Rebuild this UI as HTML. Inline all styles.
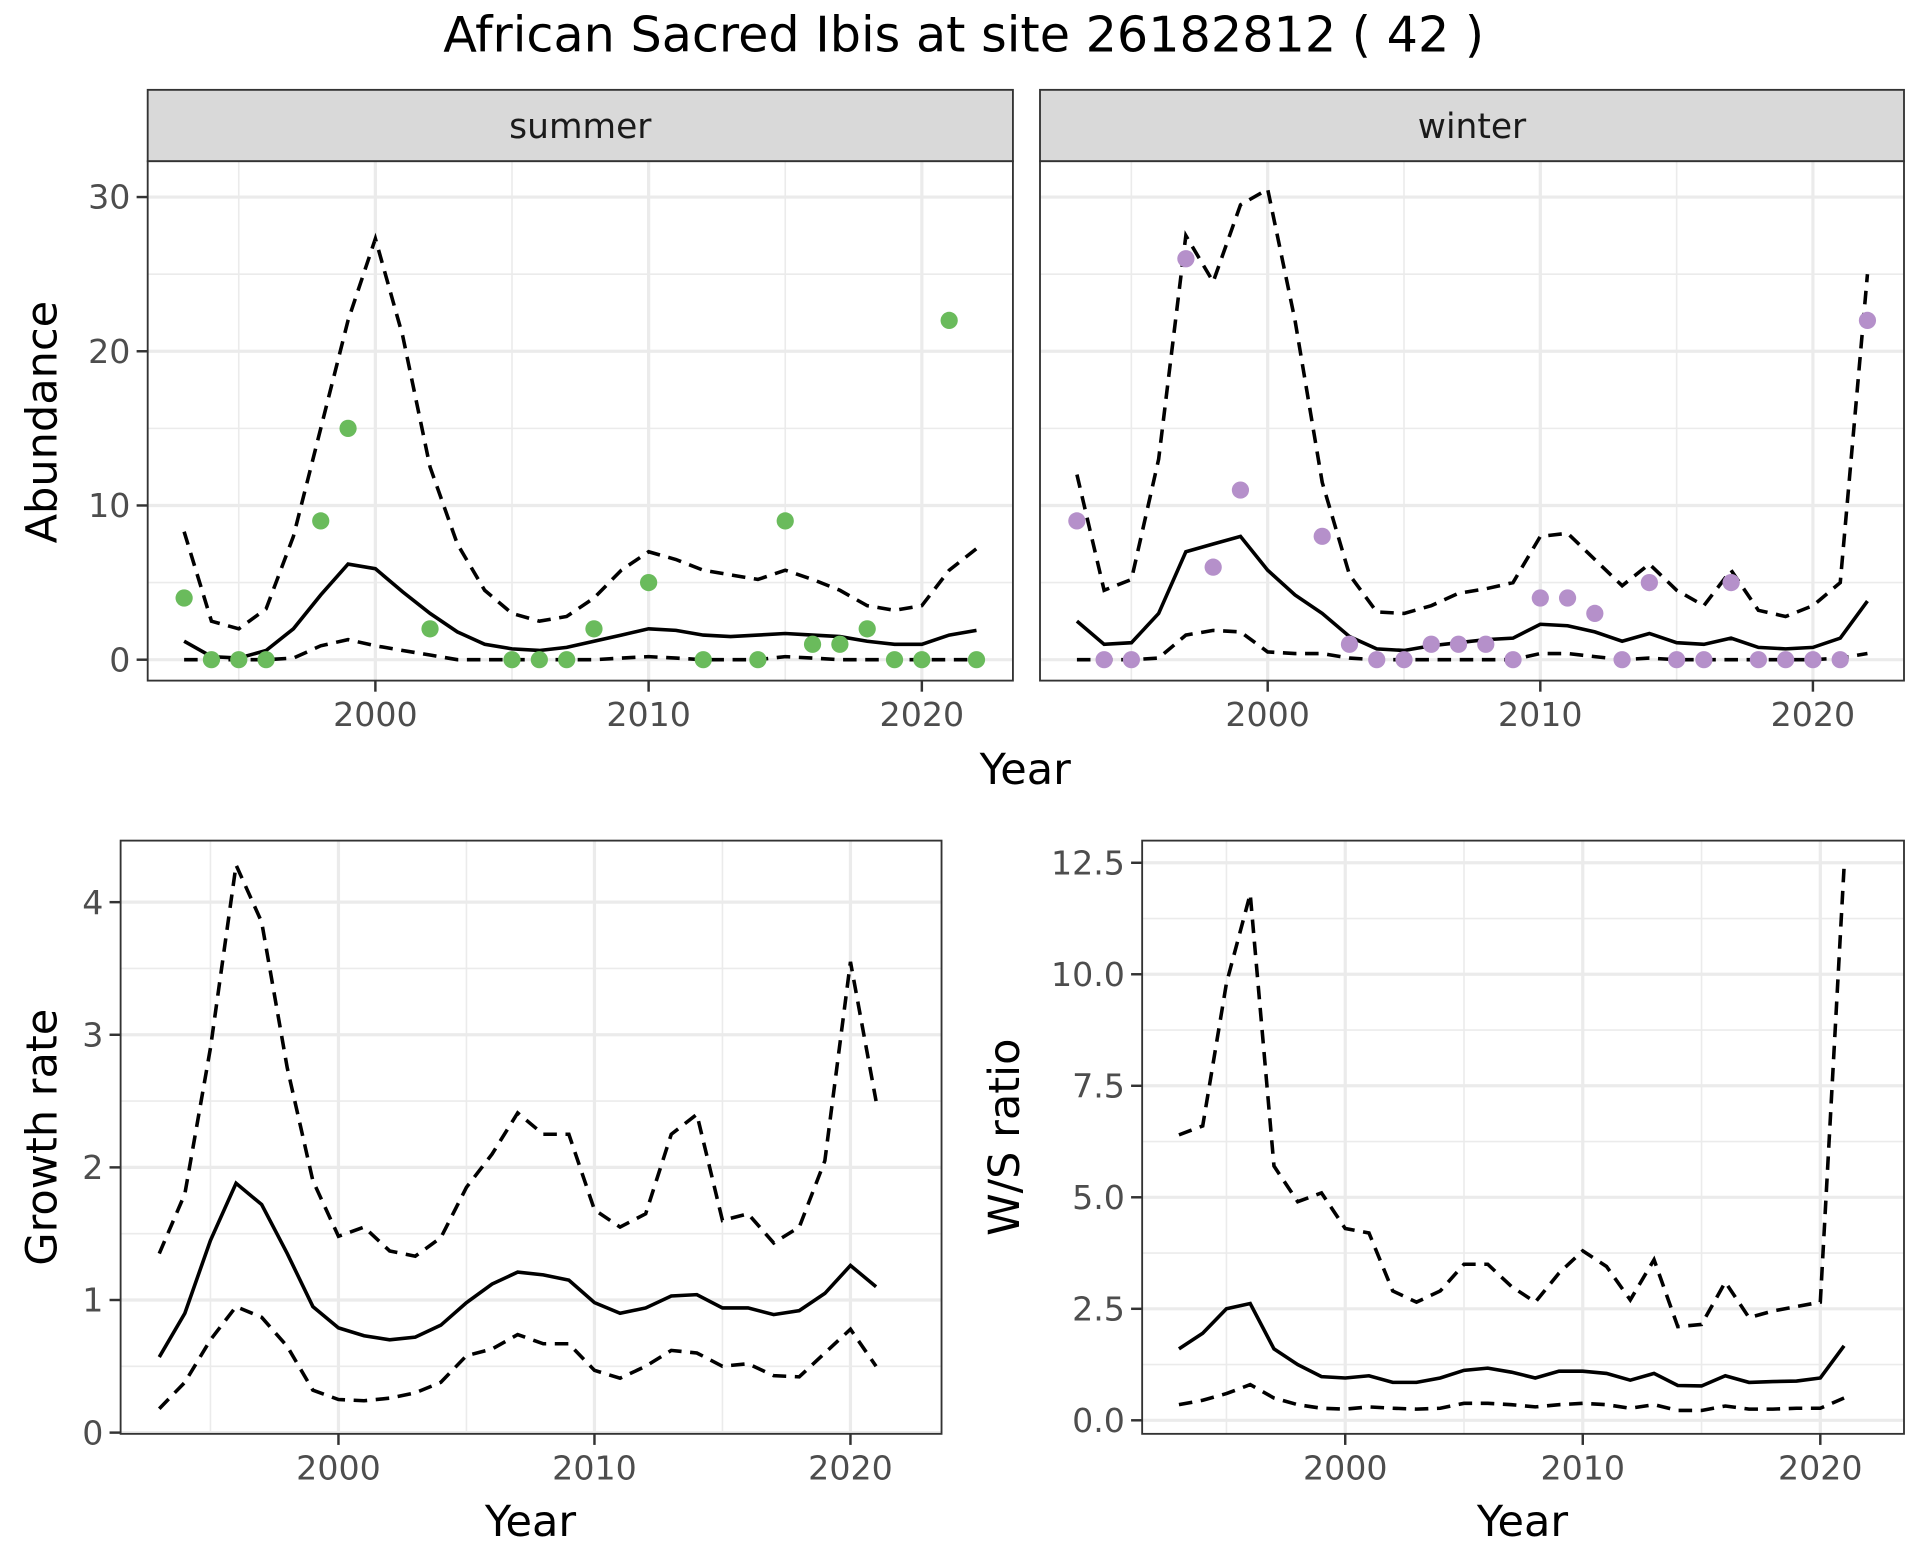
<!DOCTYPE html>
<html><head><meta charset="utf-8"><style>
html,body{margin:0;padding:0;background:#fff;}
svg{display:block;font-family:"DejaVu Sans","Liberation Sans",sans-serif;}
</style></head><body>
<svg id="s" width="1920" height="1560" viewBox="0 0 1560 1267.5" preserveAspectRatio="none" xmlns="http://www.w3.org/2000/svg"></svg>
<script>
const S=document.getElementById('s');let h='';
h+='<rect width="1560" height="1267.5" fill="#fff"/>';
h+='<text x="783" y="42" font-size="40" text-anchor="middle" fill="#000">African Sacred Ibis at site 26182812 ( 42 )</text>';
function path(pts,dash){return '<polyline fill="none" stroke="#000" stroke-width="2.9" '+(dash?'stroke-dasharray="11,7" ':'')+'points="'+pts.map(p=>p[0].toFixed(1)+','+p[1].toFixed(1)).join(' ')+'"/>';}
const TF=27;
function panel(o){
 let g='';
 g+=`<rect x="${o.x0}" y="${o.y0}" width="${o.x1-o.x0}" height="${o.y1-o.y0}" fill="#fff"/>`;
 for(const v of o.ymin){const y=o.fy(v);g+=`<line x1="${o.x0}" x2="${o.x1}" y1="${y}" y2="${y}" stroke="#ebebeb" stroke-width="1.3"/>`;}
 for(const yr of [1995,2005,2015]){const x=o.fx(yr);g+=`<line x1="${x}" x2="${x}" y1="${o.y0}" y2="${o.y1}" stroke="#ebebeb" stroke-width="1.3"/>`;}
 for(const v of o.ymaj){const y=o.fy(v);g+=`<line x1="${o.x0}" x2="${o.x1}" y1="${y}" y2="${y}" stroke="#ebebeb" stroke-width="2.6"/>`;
  if(o.showY){g+=`<line x1="${o.x0-9}" x2="${o.x0}" y1="${y}" y2="${y}" stroke="#333" stroke-width="2"/><text x="${o.x0-14}" y="${y+9.5}" font-size="${TF}" text-anchor="end" fill="#4d4d4d">${o.yl(v)}</text>`;}}
 for(const yr of [2000,2010,2020]){const x=o.fx(yr);g+=`<line x1="${x}" x2="${x}" y1="${o.y0}" y2="${o.y1}" stroke="#ebebeb" stroke-width="2.6"/><line x1="${x}" x2="${x}" y1="${o.y1}" y2="${o.y1+9}" stroke="#333" stroke-width="2"/><text x="${x}" y="${o.y1+37}" font-size="${TF}" text-anchor="middle" fill="#4d4d4d">${yr}</text>`;}
 const yrs=(a)=>a.map((v,i)=>[o.fx(1993+i),o.fy(v)]);
 g+=path(yrs(o.up),1)+path(yrs(o.lo),1)+path(yrs(o.mean),0);
 if(o.pts)for(const p of o.pts)g+=`<circle cx="${o.fx(p[0])}" cy="${o.fy(p[1])}" r="7" fill="${o.col}"/>`;
 g+=`<rect x="${o.x0}" y="${o.y0}" width="${o.x1-o.x0}" height="${o.y1-o.y0}" fill="none" stroke="#333" stroke-width="1.5"/>`;
 return g;
}
const fyTop=v=>536-v*12.53;
const sum={pts:[[1993,4],[1994,0],[1995,0],[1996,0],[1998,9],[1999,15],[2002,2],[2005,0],[2006,0],[2007,0],[2008,2],[2010,5],[2012,0],[2014,0],[2015,9],[2016,1],[2017,1],[2018,2],[2019,0],[2020,0],[2021,22],[2022,0]],
mean:[1.2,0.2,0.1,0.6,2,4.2,6.2,5.9,4.4,3,1.8,1,0.7,0.6,0.8,1.2,1.6,2,1.9,1.6,1.5,1.6,1.7,1.6,1.5,1.2,1,1,1.6,1.9],
up:[8.3,2.5,2,3.3,8,15,22,27.3,21,12.5,7.5,4.5,3,2.5,2.8,4,5.8,7,6.5,5.8,5.5,5.2,5.8,5.2,4.5,3.5,3.2,3.5,5.8,7.2],
lo:[0,0,0,0,0.1,0.9,1.3,0.9,0.6,0.3,0,0,0,0,0,0,0.1,0.2,0.1,0,0,0,0.2,0.1,0,0,0,0,0,0]};
const win={pts:[[1993,9],[1994,0],[1995,0],[1997,26],[1998,6],[1999,11],[2002,8],[2003,1],[2004,0],[2005,0],[2006,1],[2007,1],[2008,1],[2009,0],[2010,4],[2011,4],[2012,3],[2013,0],[2014,5],[2015,0],[2016,0],[2017,5],[2018,0],[2019,0],[2020,0],[2021,0],[2022,22]],
mean:[2.5,1,1.1,3,7,7.5,8,5.8,4.2,3,1.5,0.7,0.6,0.9,1.1,1.3,1.4,2.3,2.2,1.8,1.2,1.7,1.1,1,1.4,0.8,0.7,0.8,1.4,3.8],
up:[12,4.5,5.2,13,27.5,24.5,29.5,30.5,22,11.5,5.5,3.1,3,3.5,4.3,4.6,5,8,8.2,6.5,4.8,6.2,4.5,3.5,5.8,3.2,2.8,3.5,5,25],
lo:[0,0,0,0.1,1.6,1.9,1.8,0.5,0.4,0.4,0.1,0,0,0,0,0,0,0.4,0.4,0.2,0,0.1,0,0,0,0,0,0,0.1,0.4]};
h+='<rect x="120" y="73" width="703" height="58" fill="#d9d9d9" stroke="#333" stroke-width="1.5"/><text x="471.5" y="112" font-size="28" text-anchor="middle" fill="#1a1a1a">summer</text>';
h+='<rect x="845" y="73" width="702" height="58" fill="#d9d9d9" stroke="#333" stroke-width="1.5"/><text x="1196" y="112" font-size="28" text-anchor="middle" fill="#1a1a1a">winter</text>';
h+=panel(Object.assign({x0:120,x1:823,y0:131,y1:553,fx:y=>305+(y-2000)*22.2,fy:fyTop,ymaj:[0,10,20,30],ymin:[5,15,25],yl:v=>v,showY:1,col:'#6abb5c'},sum));
h+=panel(Object.assign({x0:845,x1:1547,y0:131,y1:553,fx:y=>1030+(y-2000)*22.15,fy:fyTop,ymaj:[0,10,20,30],ymin:[5,15,25],yl:v=>v,showY:0,col:'#b590ca'},win));
h+='<text x="833" y="637" font-size="35" text-anchor="middle">Year</text>';
h+='<text transform="translate(46,343) rotate(-90)" font-size="35" text-anchor="middle">Abundance</text>';
const gr={mean:[0.57,0.9,1.45,1.88,1.72,1.35,0.95,0.79,0.73,0.7,0.72,0.81,0.98,1.12,1.21,1.19,1.15,0.98,0.9,0.94,1.03,1.04,0.94,0.94,0.89,0.92,1.05,1.26,1.1],
up:[1.35,1.8,2.9,4.28,3.85,2.75,1.9,1.48,1.55,1.37,1.33,1.47,1.85,2.1,2.41,2.25,2.25,1.68,1.55,1.65,2.25,2.4,1.6,1.65,1.43,1.55,2.05,3.55,2.5],
lo:[0.18,0.38,0.7,0.95,0.87,0.65,0.32,0.25,0.24,0.26,0.3,0.38,0.58,0.63,0.74,0.67,0.67,0.47,0.41,0.5,0.62,0.6,0.5,0.52,0.43,0.42,0.6,0.78,0.5]};
h+=panel(Object.assign({x0:98,x1:765,y0:683,y1:1165,fx:y=>275+(y-2000)*20.8,fy:v=>1164-v*107.75,ymaj:[0,1,2,3,4],ymin:[0.5,1.5,2.5,3.5],yl:v=>v,showY:1},gr));
h+='<text x="431" y="1248" font-size="35" text-anchor="middle">Year</text>';
h+='<text transform="translate(46,924) rotate(-90)" font-size="35" text-anchor="middle">Growth rate</text>';
const ws={mean:[1.6,1.95,2.5,2.62,1.6,1.25,0.98,0.95,1,0.85,0.85,0.95,1.12,1.17,1.08,0.95,1.1,1.1,1.05,0.9,1.05,0.78,0.77,1,0.85,0.87,0.88,0.95,1.67],
up:[6.4,6.6,9.8,11.8,5.7,4.9,5.1,4.3,4.2,2.9,2.65,2.9,3.5,3.5,3.0,2.65,3.3,3.8,3.45,2.7,3.6,2.1,2.15,3.1,2.3,2.45,2.55,2.65,12.4],
lo:[0.35,0.45,0.6,0.8,0.5,0.35,0.27,0.25,0.3,0.27,0.25,0.27,0.38,0.38,0.35,0.3,0.35,0.38,0.35,0.27,0.35,0.22,0.22,0.32,0.25,0.25,0.27,0.27,0.5]};
h+=panel(Object.assign({x0:928,x1:1547,y0:683,y1:1165,fx:y=>1093+(y-2000)*19.3,fy:v=>1154-v*36.24,ymaj:[0,2.5,5,7.5,10,12.5],ymin:[1.25,3.75,6.25,8.75,11.25],yl:v=>v.toFixed(1),showY:1},ws));
h+='<text x="1237" y="1248" font-size="35" text-anchor="middle">Year</text>';
h+='<text transform="translate(828,924) rotate(-90)" font-size="35" text-anchor="middle">W/S ratio</text>';
S.innerHTML=h;
</script>
</body></html>
